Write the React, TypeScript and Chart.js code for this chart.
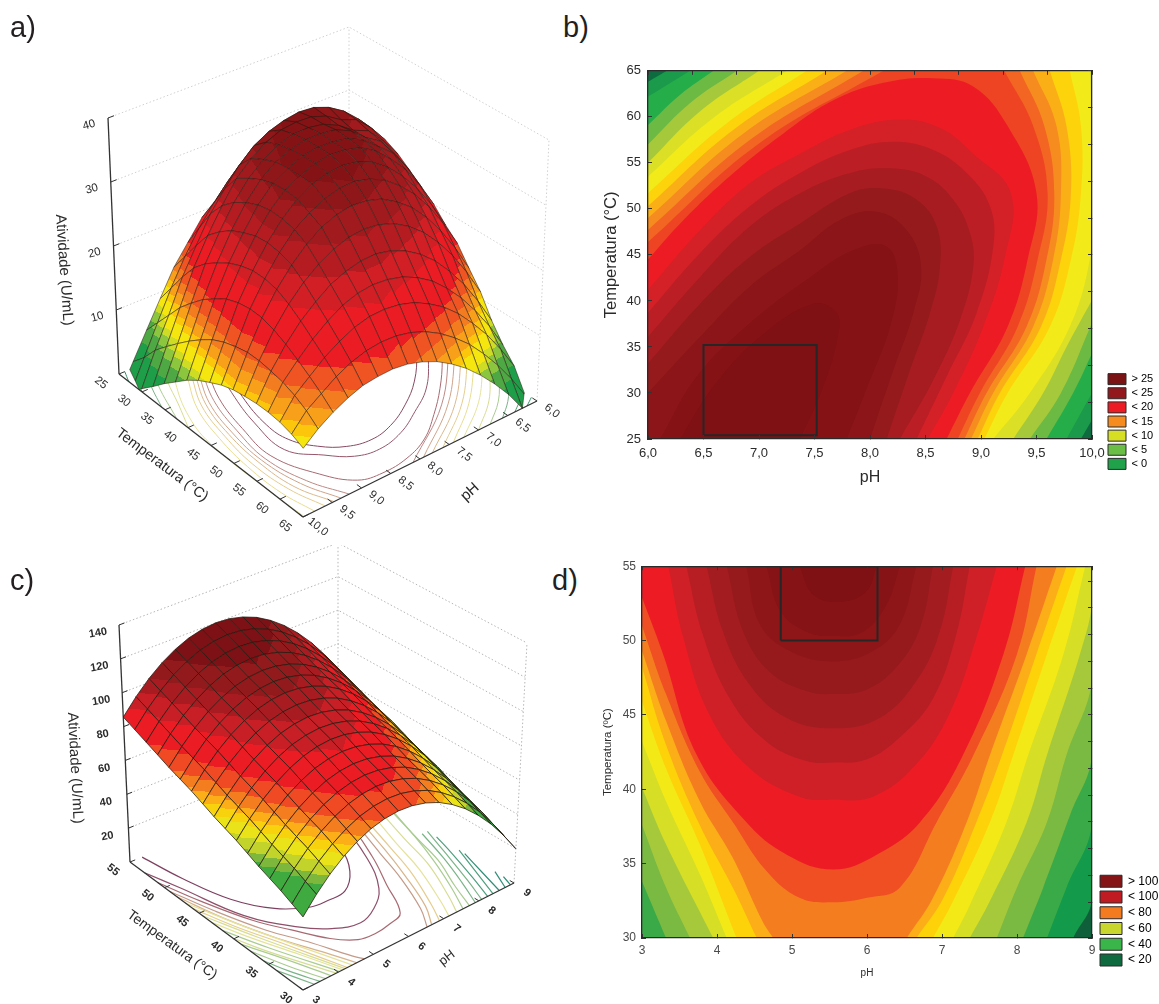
import React, { useEffect, useRef } from "react";
import { Chart, registerables } from "chart.js";

Chart.register(...registerables);
Chart.defaults.font.family = '"Liberation Sans", Arial, sans-serif';

// ---------- Panel a) surface values ----------
const phA = [6, 6.25, 6.5, 6.75, 7, 7.25, 7.5, 7.75, 8, 8.25, 8.5, 8.75, 9, 9.25, 9.5, 9.75, 10];
const tempA = [25, 27.5, 30, 32.5, 35, 37.5, 40, 42.5, 45, 47.5, 50, 52.5, 55, 57.5, 60, 62.5, 65];
const activityA = [
  [23, 24.5, 25.5, 26.5, 27, 27, 26.5, 25.5, 23, 21, 19, 16, 13, 9, 5, 1, -3],
  [24.5, 26.6, 28.4, 30, 30.6, 30.5, 29.9, 28.8, 27.2, 25, 22.4, 19.5, 16, 12, 7.5, 3, -1.5],
  [26, 28.6, 30.8, 32.3, 33.2, 33.4, 33, 32.2, 30.9, 28.8, 26, 23, 19, 15, 10, 5.5, 0.5],
  [25.5, 28.4, 30.6, 31.5, 33, 33.8, 33.9, 33.6, 32.6, 31, 28.8, 25.5, 21.8, 17.7, 12.5, 7.4, 2.2],
  [24.5, 27.5, 30, 31, 32.7, 33.8, 34.2, 34.1, 33.4, 32, 30, 27.2, 23.6, 19.6, 14.5, 9.2, 4],
  [23, 26.5, 29.5, 31, 33, 34.1, 34.4, 34.4, 33.8, 32.8, 31, 28.4, 25, 21, 16.3, 10.9, 5.6],
  [21.5, 25.5, 28.8, 30.8, 32.7, 33.9, 34.3, 34.4, 34, 33, 31.6, 29.2, 25.9, 22.2, 17.7, 12.4, 7.2],
  [20, 24, 27.5, 30, 32.2, 33.6, 34.2, 34.4, 34, 33, 31.8, 29.6, 26.6, 23, 18.9, 13.7, 8.5],
  [17.9, 22.1, 25.6, 28.5, 30.8, 32.5, 33.5, 33.9, 33.6, 32.9, 31.6, 29.5, 26.8, 23.5, 19.6, 14.6, 9.5],
  [16.2, 20.3, 23.9, 26.8, 29.1, 30.9, 32, 32.6, 32.5, 31.8, 30.6, 29, 26.5, 23.5, 19.9, 15.2, 10.4],
  [13.5, 17.7, 21.3, 24.4, 26.9, 28.7, 30.1, 30.8, 31, 30.6, 29.6, 28, 25.8, 23.1, 19.8, 15.6, 11],
  [11, 15.1, 18.7, 21.7, 24.2, 26.1, 27.5, 28.3, 28.6, 28.3, 27.5, 26.2, 24.4, 22.1, 19.2, 15.6, 11.3],
  [7.7, 11.8, 15.4, 18.4, 21, 23, 24.5, 25.5, 26, 25.9, 25.3, 24.3, 22.7, 20.8, 18.3, 15.3, 11.5],
  [5.1, 9.1, 12.5, 15.5, 18, 20.1, 21.6, 22.7, 23.3, 23.5, 23.2, 22.4, 21, 19.3, 17.2, 14.9, 11.5],
  [3, 6.7, 10, 12.8, 15.3, 17.3, 18.8, 20, 20.7, 21, 20.9, 20.3, 19.2, 17.8, 16, 14.2, 11.3],
  [-0.3, 3.3, 6.5, 9.3, 11.8, 13.8, 15.5, 16.8, 17.7, 18.2, 18.3, 18, 17.3, 16.2, 14.7, 13.2, 10.8],
  [-3.4, 0, 3.2, 5.9, 8.3, 10.4, 12.1, 13.5, 14.5, 15.2, 15.5, 15.4, 15.1, 14.3, 13.2, 11.8, 10],
];
const zLevelsA = [4, 6.5, 8, 9, 11, 12, 13.5, 15, 17, 22, 25, 28, 31, 33];
const zColorsA = ["#1f9e49", "#4ea843", "#8cc63f", "#cfdc26", "#f4e60e", "#fcc60c", "#f9a01b", "#f47c20", "#f05423", "#ec1c24", "#d21f26", "#b51c22", "#a01a1e", "#8f1619", "#851316"];

// ---------- Panel c) surface values ----------
const phC = [3, 3.375, 3.75, 4.125, 4.5, 4.875, 5.25, 5.625, 6, 6.375, 6.75, 7.125, 7.5, 7.875, 8.25, 8.625, 9];
const tempC = [30, 31.5625, 33.125, 34.6875, 36.25, 37.8125, 39.375, 40.9375, 42.5, 44.0625, 45.625, 47.1875, 48.75, 50.3125, 51.875, 53.4375, 55];
const activityC = [
  [40.6, 49.6, 57.3, 63.6, 68.5, 72.1, 74.2, 75, 74.4, 72.4, 69.1, 64.3, 58.2, 50.7, 41.9, 31.6, 20],
  [43.6, 52.6, 60.3, 66.6, 71.5, 75.1, 77.2, 78, 77.4, 75.4, 72.1, 67.3, 61.2, 53.7, 44.9, 34.6, 23],
  [46.6, 55.6, 63.3, 69.6, 74.5, 78.1, 80.2, 81, 80.4, 78.4, 75.1, 70.3, 64.2, 56.7, 47.9, 37.6, 26],
  [49.1, 58.1, 65.8, 72.1, 77, 80.6, 82.7, 83.5, 82.9, 80.9, 77.6, 72.8, 66.7, 59.2, 50.4, 40.1, 28.5],
  [51.6, 60.6, 68.3, 74.6, 79.5, 83.1, 85.2, 86, 85.4, 83.4, 80.1, 75.3, 69.2, 61.7, 52.9, 42.6, 31],
  [54.6, 63.6, 71.3, 77.6, 82.5, 86.1, 88.2, 89, 88.4, 86.4, 83.1, 78.3, 72.2, 64.7, 55.9, 45.6, 34],
  [57.6, 66.6, 74.3, 80.6, 85.5, 89.1, 91.2, 92, 91.4, 89.4, 86.1, 81.3, 75.2, 67.7, 58.9, 48.6, 37],
  [60.1, 69.1, 76.8, 83.1, 88, 91.6, 93.7, 94.5, 93.9, 91.9, 88.6, 83.8, 77.7, 70.2, 61.4, 51.1, 39.5],
  [62.6, 71.6, 79.3, 85.6, 90.5, 94.1, 96.2, 97, 96.4, 94.4, 91.1, 86.3, 80.2, 72.7, 63.9, 53.6, 42],
  [65.6, 74.6, 82.3, 88.6, 93.5, 97.1, 99.2, 100, 99.4, 97.4, 94.1, 89.3, 83.2, 75.7, 66.9, 56.6, 45],
  [68.6, 77.6, 85.3, 91.6, 96.5, 100.1, 102.2, 103, 102.4, 100.4, 97.1, 92.3, 86.2, 78.7, 69.9, 59.6, 48],
  [71.1, 80.1, 87.8, 94.1, 99, 102.6, 104.7, 105.5, 104.9, 102.9, 99.6, 94.8, 88.7, 81.2, 72.4, 62.1, 50.5],
  [73.6, 82.6, 90.3, 96.6, 101.5, 105.1, 107.2, 108, 107.4, 105.4, 102.1, 97.3, 91.2, 83.7, 74.9, 64.6, 53],
  [76.6, 85.6, 93.3, 99.6, 104.5, 108.1, 110.2, 111, 110.4, 108.4, 105.1, 100.3, 94.2, 86.7, 77.9, 67.6, 56],
  [79.6, 88.6, 96.3, 102.6, 107.5, 111.1, 113.2, 114, 113.4, 111.4, 108.1, 103.3, 97.2, 89.7, 80.9, 70.6, 59],
  [82.6, 91.6, 99.3, 105.6, 110.5, 114.1, 116.2, 117, 116.4, 114.4, 111.1, 106.3, 100.2, 92.7, 83.9, 73.6, 62],
  [85.6, 94.6, 102.3, 108.6, 113.5, 117.1, 119.2, 120, 119.4, 117.4, 114.1, 109.3, 103.2, 95.7, 86.9, 76.6, 65],
];
const zLevelsC = [30, 40, 53, 56, 60, 64, 67, 70, 74, 80, 90, 97, 103, 110];
const zColorsC = ["#1a9648", "#2ea043", "#3faa3f", "#7db83c", "#c2d42c", "#eae31a", "#f9d20e", "#fbae17", "#f47d20", "#ef4a23", "#ec1c24", "#c81f26", "#a81b20", "#931a1c", "#7d1115"];

// ---------- Panel b) contour curves (pH, temperature) ----------
const bBase = [[6, 25], [10, 25], [10, 65], [6, 65]];
const bCurvesA = [
  [[6, 63.8], [6.17, 65]],
  [[6, 62.2], [6.19, 63.6], [6.38, 65]],
  [[6, 59.1], [6.29, 62.4], [6.59, 65]],
  [[6, 57], [6.38, 61.5], [6.8, 65]],
  [[6, 55], [6.47, 60.6], [7, 65]],
  [[6, 53.5], [6.59, 59.9], [7.25, 65]],
  [[6, 51.7], [6.71, 59.3], [7.43, 65]],
  [[6, 50.3], [6.77, 58.6], [7.61, 65]],
  [[6, 49], [6.86, 58.2], [7.79, 65]],
  [[6, 47.7], [6.92, 57.5], [7.94, 65]],
  [[6, 46.4], [7, 57.1], [8.12, 65]],
  [[6, 44.5], [6.32, 48.8], [6.77, 53.9], [7.22, 58.2], [7.67, 61.8], [8.12, 63.7], [8.57, 64.2], [8.93, 63.3], [9.24, 59], [9.5, 51.7], [9.42, 44.5], [9.24, 37.2], [8.9, 30], [8.69, 25]],
  [[6, 41.2], [6.47, 47.7], [6.92, 52.8], [7.37, 56], [7.82, 58.6], [8.27, 59.7], [8.63, 58.8], [8.93, 56], [9.27, 51.7], [9.21, 44.5], [9.02, 37.2], [8.75, 30], [8.52, 25]],
  [[6, 38.7], [6.47, 45.2], [6.92, 50.3], [7.37, 53.9], [7.82, 56.4], [8.21, 57.3], [8.57, 56.4], [8.87, 53.9], [9.08, 50.3], [9.11, 45.9], [8.96, 38.7], [8.69, 31.8], [8.42, 25]],
  [[6, 36.1], [6.47, 42.6], [6.92, 48.1], [7.37, 51.7], [7.82, 53.9], [8.18, 54.4], [8.51, 53.5], [8.75, 51], [8.9, 47.4], [8.93, 43.7], [8.81, 37.9], [8.57, 31.4], [8.27, 25]],
  [[6, 33.2], [6.47, 39.7], [6.92, 44.8], [7.37, 48.4], [7.82, 51.7], [8.12, 52.2], [8.42, 51], [8.6, 48.1], [8.63, 43.7], [8.54, 38.7], [8.36, 32.5], [8.15, 25]],
  [[6, 30], [6.47, 36.1], [6.92, 41.6], [7.37, 45.5], [7.73, 48.8], [8.06, 49.7], [8.33, 47.7], [8.46, 43.7], [8.39, 38.7], [8.21, 32.5], [8, 25]],
  [[6.11, 25], [6.44, 31.8], [6.92, 37.6], [7.43, 42.3], [7.85, 45.5], [8.15, 45.9], [8.25, 42.6], [8.18, 37.2], [8, 31.4], [7.79, 25]],
  [[6.29, 25], [6.59, 30.7], [7.01, 36.1], [7.49, 39.7], [7.7, 38.7], [7.71, 36.1], [7.58, 30.7], [7.37, 25]],
];
const bCurvesB = [
  [[10, 27.1], [9.9, 25]],
  [[10, 30], [9.77, 25]],
  [[10, 34.3], [9.83, 30], [9.59, 25]],
  [[10, 37.6], [9.72, 30], [9.44, 25]],
  [[10, 40.1], [9.77, 35], [9.56, 30], [9.29, 25]],
  [[9.98, 65], [10, 59], [10, 50], [9.98, 44.5], [9.8, 37.2], [9.44, 30], [9.11, 25]],
  [[9.8, 65], [9.9, 59], [9.9, 51.7], [9.81, 44.5], [9.62, 37.2], [9.24, 30], [9.03, 25]],
  [[9.62, 65], [9.77, 59], [9.81, 51.7], [9.72, 44.5], [9.54, 37.2], [9.17, 30], [8.97, 25]],
  [[9.47, 65], [9.68, 59], [9.72, 51.7], [9.65, 44.5], [9.47, 37.2], [9.11, 30], [8.91, 25]],
  [[9.35, 65], [9.57, 59], [9.66, 51.7], [9.59, 44.5], [9.41, 37.2], [9.05, 30], [8.85, 25]],
  [[9.21, 65], [9.47, 59], [9.6, 51.7], [9.51, 44.5], [9.33, 37.2], [8.99, 30], [8.79, 25]],
  [], [], [], [], [], [], [], [],
];
const bBandColors = ["#1a9a4a", "#25ad4a", "#6cb944", "#a6c93c", "#dbdf26", "#f2ea19", "#fdd30b", "#fbaf17", "#f68b1f", "#f26522", "#ee4423", "#ed1c24", "#d42027", "#bb1e24", "#a61c20", "#951a1c", "#8b1518", "#851215", "#7f1014"];
const bFloorColors = ["#2f8f68", "#4c9f6e", "#79b487", "#a9cc90", "#d7dd93", "#e5e39a", "#e9dd8f", "#e6cd8e", "#dcb88c", "#cfa38a", "#bd8a85", "#a86a72", "#95566a", "#864a62"];
const bBox = [[6.5, 25.4], [7.52, 25.4], [7.52, 35.2], [6.5, 35.2], [6.5, 25.4]];
const bLegendText = ["> 25", "< 25", "< 20", "< 15", "< 10", "< 5", "< 0"];
const bLegendColors = ["#7b1214", "#93181e", "#ed1c24", "#f68b1f", "#d7df23", "#6abd45", "#1fa24a"];

// ---------- Panel d) contour curves (pH, temperature) ----------
const dBase = [[3, 30], [9, 30], [9, 55], [3, 55]];
const dCurvesA = [
  [[3, 30]],
  [[3, 30]],
  [[3, 33.8], [3.32, 30]],
  [[3, 37.6], [3.32, 33.4], [3.64, 30]],
  [[3, 40.1], [3.32, 36.3], [3.95, 30]],
  [[3, 43.2], [3.32, 39.2], [3.77, 34.3], [4.13, 30]],
  [[3, 45.9], [3.32, 41.4], [3.77, 36.3], [4.26, 30]],
  [[3, 48.2], [3.32, 43], [3.77, 37.6], [4.21, 33.4], [4.53, 30]],
  [[3, 49.3], [3.32, 44.6], [3.77, 39.2], [4.21, 35.4], [4.61, 31.1], [4.75, 30]],
  [[3, 51], [3.32, 46.4], [3.77, 41.2], [4.21, 37.8], [4.66, 34.5], [5.1, 32.7], [5.55, 32.4], [6, 32.7], [6.44, 33.4], [6.93, 37.8], [7.42, 42.3], [8, 49.1], [8.26, 55]],
  [[3, 52.9], [3.28, 49.1], [3.73, 42.3], [4.39, 37.8], [4.93, 35.6], [5.55, 34.6], [6.13, 35.6], [6.71, 37.8], [7.28, 42.3], [7.82, 49.1], [8.11, 55]],
  [[3.35, 55], [3.55, 50.2], [3.9, 45], [4.44, 41.4], [5.1, 39.5], [5.55, 39.3], [6.08, 39.5], [6.66, 41.7], [7.11, 45.2], [7.46, 50.2], [7.73, 55]],
  [[3.59, 55], [3.81, 50.4], [4.17, 46.1], [4.66, 43.2], [5.19, 41.9], [5.55, 41.8], [5.99, 42], [6.44, 43.5], [6.88, 46.1], [7.19, 50.4], [7.37, 55]],
  [[3.86, 55], [4.08, 50.6], [4.44, 47], [4.93, 44.8], [5.55, 44.1], [6.17, 44.8], [6.66, 47.3], [6.97, 50.6], [7.15, 55]],
  [[4.13, 55], [4.35, 50.6], [4.7, 47.9], [5.19, 46.6], [5.55, 46.4], [5.99, 46.7], [6.39, 48.2], [6.71, 50.9], [6.88, 55]],
  [[4.39, 55], [4.57, 51.1], [4.97, 49.3], [5.55, 48.6], [6.08, 49.3], [6.44, 51.1], [6.66, 55]],
  [[4.66, 55], [4.84, 52], [5.19, 50.6], [5.55, 50.3], [5.95, 50.6], [6.26, 52.4], [6.44, 55]],
  [[5.1, 55], [5.28, 53.1], [5.64, 52.6], [5.99, 53.3], [6.13, 55]],
];
const dCurvesB = [
  [[8.75, 30], [9, 32.7], [9, 55]],
  [[8.4, 30], [8.66, 33.4], [9, 37.8], [9, 55]],
  [[8.08, 30], [8.35, 33.4], [8.71, 38.3], [9, 42.3], [9, 55]],
  [[7.73, 30], [8, 33.4], [8.4, 37.8], [8.66, 42.3], [9, 47.3], [9, 55]],
  [[7.37, 30], [7.64, 32.5], [8.13, 37.8], [8.4, 42.3], [8.84, 49.1], [9, 52.4], [9, 55]],
  [[7.15, 30], [7.37, 32.2], [7.86, 37.8], [8.15, 42.3], [8.62, 49.1], [8.91, 55]],
  [[6.88, 30], [7.15, 32.5], [7.64, 37.8], [7.95, 42.3], [8.4, 49.1], [8.8, 55]],
  [[6.66, 30], [7.02, 32.7], [7.46, 37.8], [7.8, 42.3], [8.26, 49.1], [8.66, 55]],
  [[6.53, 30], [6.88, 32.7], [7.33, 37.8], [7.64, 42.3], [8.13, 49.1], [8.53, 55]],
  [], [], [], [], [], [], [], [], [],
];
const dBandColors = ["#139a4a", "#3aaa48", "#7ab942", "#a6c93c", "#d6de26", "#f3e917", "#fdd209", "#fbae17", "#f47d20", "#f04e23", "#ed1c24", "#cf2027", "#b71e24", "#a31c20", "#961a1c", "#8e1619", "#861316", "#7f1014"];
const dFloorColors = ["#2f8f78", "#4c9f7e", "#79b487", "#a9cc90", "#d7dd93", "#e5e39a", "#e6cd8e", "#d8b48a", "#c49a88", "#a86a72", "#8e4f68", "#7e4060"];
const floorExtraC = [
  [[3, 35.7], [3.2, 33], [3.48, 30]],
  [[3, 38.9], [3.4, 34.8], [3.8, 30]],
  [[3, 41.6], [3.4, 36.9], [4.04, 30]],
  [[3, 44.5], [3.45, 38.9], [4.2, 30]],
  [[3, 47], [3.5, 40.6], [4.4, 30]],
  [[7.55, 30], [7.9, 33.4], [8.3, 37.8], [8.65, 42.3], [8.95, 47]],
  [[7.9, 30], [8.2, 33.4], [8.55, 37.8], [8.85, 42.3]],
  [[8.25, 30], [8.5, 33.4], [8.8, 37.8], [9, 41]],
  [[8.58, 30], [8.78, 33.4], [9, 37]],
  [[8.9, 30], [9, 31.5]],
];
const floorExtraLevelC = [2, 3, 3, 4, 5, 3, 2, 1, 0, 0];
const dBox = [[4.85, 50], [6.14, 50], [6.14, 55], [4.85, 55], [4.85, 50]];
const dLegendText = ["> 100", "< 100", "< 80", "< 60", "< 40", "< 20"];
const dLegendColors = ["#851416", "#c01a22", "#f47b20", "#c9d62e", "#39b54a", "#0f6b3f"];

// ---------- Axis ticks of the 3D panels ----------
const zTicksA = [10, 20, 30, 40];
const tTicksA = [25, 30, 35, 40, 45, 50, 55, 60, 65];
const phTicksA = [6, 6.5, 7, 7.5, 8, 8.5, 9, 9.5, 10];
const zTicksC = [20, 40, 60, 80, 100, 120, 140];
const tTicksC = [55, 50, 45, 40, 35, 30];
const phTicksC = [9, 8, 7, 6, 5, 4, 3];

// ---------- Helpers ----------
const pts = (arr: number[][]) => arr.map(([x, y]) => ({ x, y }));

const fillPlugin = {
  id: "fillPlugin",
  beforeDatasetDraw(chart: any, args: any) {
    const ds = chart.data.datasets[args.index];
    if (!ds.polyColor && !ds.quadZ) return;
    const line = args.meta.dataset;
    if (!line) return;
    const { ctx, chartArea: a, scales } = chart;
    ctx.save();
    ctx.beginPath();
    ctx.rect(a.left, a.top, a.right - a.left, a.bottom - a.top);
    ctx.clip();
    ctx.beginPath();
    line.updateControlPoints(a, "x");
    line.path(ctx);
    if (ds.closeAt) ctx.lineTo(scales.x.getPixelForValue(ds.closeAt[0]), scales.y.getPixelForValue(ds.closeAt[1]));
    ctx.closePath();
    if (ds.quadZ) {
      const els = args.meta.data;
      let lo = 0, hi = 0;
      ds.quadZ.forEach((z: number, i: number) => {
        if (z < ds.quadZ[lo]) lo = i;
        if (z > ds.quadZ[hi]) hi = i;
      });
      const zlo = ds.quadZ[lo], zhi = ds.quadZ[hi];
      const bands = [-1e9, ...ds.levels, 1e9];
      const idx = (z: number) => ds.levels.filter((l: number) => z >= l).length;
      if (idx(zlo) === idx(zhi) || zhi - zlo < 1e-6) {
        ctx.fillStyle = ds.colors[idx(zlo)];
      } else {
        const g = ctx.createLinearGradient(els[lo].x, els[lo].y, els[hi].x, els[hi].y);
        for (let b = idx(zlo); b <= idx(zhi); b++) {
          const t1 = (Math.max(bands[b], zlo) - zlo) / (zhi - zlo);
          const t2 = (Math.min(bands[b + 1], zhi) - zlo) / (zhi - zlo);
          g.addColorStop(t1, ds.colors[b]);
          g.addColorStop(t2, ds.colors[b]);
        }
        ctx.fillStyle = g;
      }
    } else {
      ctx.fillStyle = ds.polyColor;
    }
    ctx.fill();
    ctx.restore();
  },
};

// The ends of a contour run a little past the plot frame, so that the spline stays natural up to the frame.
const runOut = (c: number[][]) => {
  if (c.length < 2) return c;
  const n = c.length;
  const out = (p: number[], q: number[]) => [p[0] + (p[0] - q[0]) * 0.4, p[1] + (p[1] - q[1]) * 0.4];
  return [out(c[0], c[1]), ...c, out(c[n - 1], c[n - 2])];
};

function contourChart(canvas: HTMLCanvasElement, o: any) {
  const datasets: any[] = [];
  const common = { showLine: true, pointRadius: 0, borderWidth: 0, tension: 0 };
  datasets.push({ ...common, data: pts(o.base), polyColor: o.baseColor });
  o.curvesA.forEach((c: number[][], i: number) => {
    const b = o.curvesB[i];
    const joint = b.length && b[0][0] === o.xMax && b[0][1] < o.yMax
      ? [[o.xMax + (o.xMax - o.xMin) * 0.1, o.yMax + (o.yMax - o.yMin) * 0.1]]
      : [];
    datasets.push({
      ...common,
      tension: 0.4,
      capBezierPoints: false,
      data: pts([...runOut(c), ...joint, ...runOut(b)]),
      polyColor: o.bandColors[i],
      closeAt: o.corner,
    });
  });
  datasets.push({ ...common, data: pts(o.box), borderColor: "#262626", borderWidth: 2 });
  datasets.forEach((d, i) => (d.order = -i));
  const tick = { color: o.tickColor, font: { size: o.tickSize }, autoSkip: false, maxRotation: 0, z: 1 };
  const grid = { drawOnChartArea: false, tickLength: -4, color: "#333", z: 1 };
  const border = { color: "#2a2a2a", width: 1.3, z: 1 };
  return new Chart(canvas, {
    type: "scatter",
    data: { datasets },
    plugins: [fillPlugin, {
      id: "legendPlace",
      afterLayout(chart: any) {
        const l = chart.legend;
        l.left = o.legendX - o.left - o.legendPad;
        l.bottom = o.legendBottom - o.top;
      },
    }],
    options: {
      animation: false,
      responsive: false,
      events: [],
      layout: { padding: { top: o.padTop } },
      plugins: {
        tooltip: { enabled: false },
        legend: {
          position: "right",
          align: "end",
          onClick: null,
          labels: {
            boxWidth: o.boxW,
            boxHeight: o.boxH,
            padding: o.legendPad,
            color: "#3c3c3c",
            font: { size: o.legendFont },
            generateLabels: () =>
              o.legendText.map((t: string, i: number) => ({
                text: t,
                fillStyle: o.legendColors[i],
                strokeStyle: "#2a2a2a",
                lineWidth: 1,
                hidden: false,
                datasetIndex: 0,
              })),
          },
        },
      },
      scales: {
        x: {
          type: "linear",
          min: o.xMin,
          max: o.xMax,
          ticks: { ...tick, stepSize: o.xStep, padding: o.xPad, callback: o.xFmt },
          grid,
          border,
          title: { display: true, text: "pH", color: "#2a2a2a", font: { size: o.xTitleSize }, padding: { top: 0, bottom: 2 } },
          afterFit: (s: any) => { s.height = o.xHeight; },
        },
        y: {
          type: "linear",
          min: o.yMin,
          max: o.yMax,
          ticks: { ...tick, stepSize: 5, padding: o.yPad },
          grid,
          border,
          title: { display: true, text: o.yTitle, color: "#2a2a2a", font: { size: o.yTitleSize }, padding: { top: 2, bottom: 0 } },
          afterFit: (s: any) => { s.width = o.yWidth; },
        },
        x2: {
          type: "linear",
          position: "top",
          min: o.xMin,
          max: o.xMax,
          ticks: { display: false, stepSize: o.x2Step },
          grid,
          border,
          afterFit: (s: any) => { s.height = 0; },
        },
        y2: {
          type: "linear",
          position: "right",
          min: o.yMin,
          max: o.yMax,
          ticks: { display: false, stepSize: o.y2Step },
          grid,
          border,
          afterFit: (s: any) => { s.width = Math.max(0, o.left + o.width - o.plotRight - s.chart.legend.width); },
        },
      },
    },
  } as any);
}

function surfaceChart(canvas: HTMLCanvasElement, o: any) {
  const mix = (c: any, u: number, v: number) => {
    const a = c[0], b = c[1], d = c[2], e = c[3];
    return [
      a[0] * (1 - u) * (1 - v) + b[0] * u * (1 - v) + d[0] * (1 - u) * v + e[0] * u * v,
      a[1] * (1 - u) * (1 - v) + b[1] * u * (1 - v) + d[1] * (1 - u) * v + e[1] * u * v,
    ];
  };
  const project = (ph: number, t: number, z: number) => {
    const u = (ph - o.phRange[0]) / (o.phRange[1] - o.phRange[0]);
    const v = (t - o.tRange[0]) / (o.tRange[1] - o.tRange[0]);
    const f = mix(o.floor, u, v);
    const w = mix(o.up, u, v);
    const k = z / o.zMax;
    return { x: f[0] + w[0] * k, y: f[1] + w[1] * k };
  };
  const datasets: any[] = [];
  const line = (data: any[], color: string, width: number, extra: any = {}) =>
    datasets.push({ showLine: true, pointRadius: 0, data, borderColor: color, borderWidth: width, tension: 0, ...extra });

  // walls
  const dash = { borderDash: [1.5, 2.2] };
  o.zTicks.forEach((z: number) => {
    line([project(o.zAxis[0], o.zAxis[1], z), project(o.back[0], o.back[1], z), project(o.rightEdge[0], o.rightEdge[1], z)], o.wallColor, 1, dash);
  });
  line([project(o.back[0], o.back[1], 0), project(o.back[0], o.back[1], o.zMax)], o.wallColor, 1, dash);
  line([project(o.rightEdge[0], o.rightEdge[1], 0), project(o.rightEdge[0], o.rightEdge[1], o.zMax)], o.wallColor, 1, dash);

  // floor contours, leaving out the stretches that only follow the edge of the floor
  o.floorCurves.forEach((c: number[][], i: number) => {
    const kept = c.filter(([p], k) => !(p === o.phEdge && k > 0 && c[k - 1][0] === o.phEdge));
    if (kept.length < 2) return;
    const col = o.floorColors[Math.min(o.floorLevel[i], o.floorColors.length - 1)];
    line(kept.map(([p, t]) => project(p, t, 0)), col, o.floorWidth, { tension: 0.4 });
  });

  // axes
  line([project(o.zAxis[0], o.zAxis[1], 0), project(o.zAxis[0], o.zAxis[1], o.zMax)], "#333", 1.3);
  line([project(o.zAxis[0], o.zAxis[1], 0), project(o.front[0], o.front[1], 0)], "#333", 1.3);
  line([project(o.rightEdge[0], o.rightEdge[1], 0), project(o.front[0], o.front[1], 0)], "#333", 1.3);
  o.tTicks.forEach((t: number) => line([project(o.front[0], t, 0), project(o.front[0] + o.phInward, t, 0)], "#333", 1));
  o.phTicks.forEach((p: number) => line([project(p, o.front[1], 0), project(p, o.front[1] + o.tInward, 0)], "#333", 1));
  o.zTicks.forEach((z: number) => line([project(o.zAxis[0], o.zAxis[1], z), project(o.zAxis[0] + o.phInward, o.zAxis[1], z)], "#333", 1));

  // surface cells, furthest first; the surface ends where it meets the floor
  const cells: any[] = [];
  for (let i = 0; i < o.temps.length - 1; i++) {
    for (let j = 0; j < o.phs.length - 1; j++) {
      const corners = [[j, i], [j + 1, i], [j + 1, i + 1], [j, i + 1]].map(([c, r]) => ({ p: o.phs[c], t: o.temps[r], z: o.values[r][c] }));
      const poly: any[] = [];
      corners.forEach((a, k) => {
        const b = corners[(k + 1) % 4];
        if (a.z >= 0) poly.push(a);
        if (a.z < 0 !== b.z < 0) {
          const s = a.z / (a.z - b.z);
          poly.push({ p: a.p + (b.p - a.p) * s, t: a.t + (b.t - a.t) * s, z: 0 });
        }
      });
      if (poly.length < 3) continue;
      const data = poly.map((v) => project(v.p, v.t, v.z));
      data.push(data[0]);
      const depth = project((o.phs[j] + o.phs[j + 1]) / 2, (o.temps[i] + o.temps[i + 1]) / 2, 0).y;
      cells.push({ data, zs: poly.map((v) => v.z), depth });
    }
  }
  cells.sort((a, b) => a.depth - b.depth);
  cells.forEach((c) => line(c.data, o.meshColor, o.meshWidth, { quadZ: c.zs, levels: o.levels, colors: o.colors }));
  datasets.forEach((d, i) => (d.order = -i));

  // texts
  const texts: any[] = [];
  o.zTicks.forEach((z: number) => {
    const p = project(o.zAxis[0], o.zAxis[1], z);
    texts.push({ ...p, dx: o.zOff[0], dy: o.zOff[1], text: String(z), rot: o.zRot, font: o.tickFont });
  });
  o.tTicks.forEach((t: number) => {
    const p = project(o.front[0], t, 0);
    texts.push({ ...p, dx: o.tOff[0], dy: o.tOff[1], text: String(t), rot: 38, font: o.tickFont });
  });
  o.phTicks.forEach((v: number) => {
    const p = project(v, o.front[1], 0);
    texts.push({ ...p, dx: o.phOff[0], dy: o.phOff[1], text: o.phFmt(v), rot: 38, font: o.tickFont });
  });
  o.titles.forEach((t: any) => texts.push({ ...t, dx: 0, dy: 0 }));

  const textPlugin = {
    id: "rotatedText",
    afterDraw(chart: any) {
      const { ctx, scales } = chart;
      texts.forEach((t) => {
        ctx.save();
        ctx.translate(scales.x.getPixelForValue(t.x) + t.dx, scales.y.getPixelForValue(t.y) + t.dy);
        ctx.rotate((t.rot * Math.PI) / 180);
        ctx.font = t.font;
        ctx.fillStyle = "#2a2a2a";
        ctx.textAlign = "center";
        ctx.textBaseline = "middle";
        ctx.fillText(t.text, 0, 0);
        ctx.restore();
      });
    },
  };

  return new Chart(canvas, {
    type: "scatter",
    data: { datasets },
    plugins: [fillPlugin, textPlugin],
    options: {
      animation: false,
      responsive: false,
      events: [],
      layout: { padding: 0 },
      plugins: { legend: { display: false }, tooltip: { enabled: false } },
      scales: {
        x: { type: "linear", display: false, min: o.left, max: o.left + o.width },
        y: { type: "linear", display: false, reverse: true, min: o.top, max: o.top + o.height },
      },
    },
  } as any);
}

const FONT = '"Liberation Sans", Arial, sans-serif';
const comma = (v: number) => v.toFixed(1).replace(".", ",");

const boxes = {
  a: { left: 0, top: 0, width: 560, height: 545 },
  b: { left: 600, top: 52, width: 559, height: 437 },
  c: { left: 0, top: 545, width: 550, height: 459 },
  d: { left: 599, top: 549, width: 575, height: 432 },
};
const panelLetters = [
  { text: "a)", left: 10, top: 13 },
  { text: "b)", left: 563, top: 13 },
  { text: "c)", left: 10, top: 566 },
  { text: "d)", left: 552, top: 566 },
];

export default function App() {
  const aRef = useRef<HTMLCanvasElement>(null);
  const bRef = useRef<HTMLCanvasElement>(null);
  const cRef = useRef<HTMLCanvasElement>(null);
  const dRef = useRef<HTMLCanvasElement>(null);

  useEffect(() => {
    document.body.style.margin = "0";
    const floorA: number[][][] = [];
    const levelA: number[] = [];
    bCurvesA.slice(0, 14).forEach((c, i) => {
      floorA.push(c); levelA.push(i);
      floorA.push(bCurvesB[i]); levelA.push(i);
    });
    const floorC: number[][][] = [];
    const levelC: number[] = [];
    dCurvesA.slice(0, 12).forEach((c, i) => {
      floorC.push(c); levelC.push(i);
      floorC.push(dCurvesB[i]); levelC.push(i);
    });
    floorExtraC.forEach((c, i) => {
      floorC.push(c); levelC.push(floorExtraLevelC[i]);
    });

    const charts = [
      surfaceChart(aRef.current!, {
        ...boxes.a,
        phRange: [6, 10], tRange: [25, 65], zMax: 40,
        floor: [[349, 279], [119, 374], [537, 401], [303, 517]],
        up: [[0, -252], [-11, -256], [12, -261], [1, -275]],
        phs: phA, temps: tempA, values: activityA, levels: zLevelsA, colors: zColorsA,
        zTicks: zTicksA, tTicks: tTicksA, phTicks: phTicksA,
        zAxis: [10, 25], back: [6, 25], rightEdge: [6, 65], front: [10, 65],
        phInward: -0.1, tInward: -1, phEdge: 10,
        wallColor: "#d0d0d0", meshColor: "rgba(40,25,15,0.62)", meshWidth: 0.85,
        floorCurves: floorA, floorLevel: levelA, floorColors: bFloorColors, floorWidth: 1,
        zOff: [-19, 7], tOff: [-18, 9], phOff: [15, 10], zRot: -15, phFmt: comma,
        tickFont: `11.5px ${FONT}`,
        titles: [
          { x: 64, y: 270, text: "Atividade (U/mL)", rot: 86, font: `15px ${FONT}` },
          { x: 162, y: 465, text: "Temperatura (°C)", rot: 37, font: `14.5px ${FONT}` },
          { x: 470, y: 492, text: "pH", rot: -42, font: `15px ${FONT}` },
        ],
      }),
      contourChart(bRef.current!, {
        ...boxes.b,
        base: bBase, baseColor: "#0e6b3f", curvesA: bCurvesA, curvesB: bCurvesB, bandColors: bBandColors,
        corner: [6, 25], box: bBox,
        xMin: 6, xMax: 10, yMin: 25, yMax: 65, xStep: 0.5, x2Step: 0.4, y2Step: 4, xFmt: comma,
        plotRight: 1092, padTop: 0, xHeight: 50, yWidth: 48,
        xPad: 11, yPad: 11, tickSize: 13, tickColor: "#2b2b2b",
        yTitle: "Temperatura (°C)", yTitleSize: 16.5, xTitleSize: 16,
        legendText: bLegendText, legendColors: bLegendColors, boxW: 18, boxH: 11, legendFont: 11, legendPad: 3.125,
        legendX: 1108, legendBottom: 472.5,
      }),
      surfaceChart(cRef.current!, {
        ...boxes.c,
        phRange: [3, 9], tRange: [30, 55], zMax: 140,
        floor: [[303, 990], [514, 883], [130, 862], [338, 778]],
        up: [[0, -252], [13, -240], [-11, -237], [0, -235]],
        phs: phC, temps: tempC, values: activityC, levels: zLevelsC, colors: zColorsC,
        zTicks: zTicksC, tTicks: tTicksC, phTicks: phTicksC,
        zAxis: [3, 55], back: [9, 55], rightEdge: [9, 30], front: [3, 30],
        phInward: 0.15, tInward: 0.6, phEdge: 9,
        wallColor: "#b5b5b5", meshColor: "rgba(35,25,15,0.75)", meshWidth: 1,
        floorCurves: floorC, floorLevel: levelC, floorColors: dFloorColors, floorWidth: 1.2,
        zOff: [-21, 8], tOff: [-17, 8], phOff: [13, 10], zRot: -10, phFmt: (v: number) => String(v),
        tickFont: `600 11px ${FONT}`,
        titles: [
          { x: 75, y: 768, text: "Atividade (U/mL)", rot: 87, font: `15px ${FONT}` },
          { x: 172, y: 945, text: "Temperatura (°C)", rot: 36, font: `14px ${FONT}` },
          { x: 447, y: 958, text: "pH", rot: -38, font: `13px ${FONT}` },
        ],
      }),
      contourChart(dRef.current!, {
        ...boxes.d,
        base: dBase, baseColor: "#0e5f3a", curvesA: dCurvesA, curvesB: dCurvesB, bandColors: dBandColors,
        corner: [3, 55], box: dBox,
        xMin: 3, xMax: 9, yMin: 30, yMax: 55, xStep: 1, x2Step: 1, y2Step: 1.8, xFmt: (v: number) => String(v),
        plotRight: 1092, padTop: 0, xHeight: 43, yWidth: 43,
        xPad: 9, yPad: 10, tickSize: 12, tickColor: "#4a4a4a",
        yTitle: "Temperatura (ºC)", yTitleSize: 11.5, xTitleSize: 10,
        legendText: dLegendText, legendColors: dLegendColors, boxW: 22, boxH: 12, legendFont: 12, legendPad: 3.75,
        legendX: 1100, legendBottom: 969.75,
      }),
    ];
    return () => charts.forEach((c) => c.destroy());
  }, []);

  const cv = (ref: any, b: any) => (
    <canvas ref={ref} width={b.width} height={b.height} style={{ position: "absolute", left: b.left, top: b.top, width: b.width, height: b.height, display: "block" }} />
  );

  return (
    <div style={{ position: "absolute", left: 0, top: 0, width: 1159, height: 1004, overflow: "hidden", background: "#fff", fontFamily: FONT }}>
      {cv(aRef, boxes.a)}
      {cv(bRef, boxes.b)}
      {cv(cRef, boxes.c)}
      {cv(dRef, boxes.d)}
      {panelLetters.map((p) => (
        <div key={p.text} style={{ position: "absolute", left: p.left, top: p.top, fontSize: 29, lineHeight: 1, color: "#231f20" }}>{p.text}</div>
      ))}
    </div>
  );
}
